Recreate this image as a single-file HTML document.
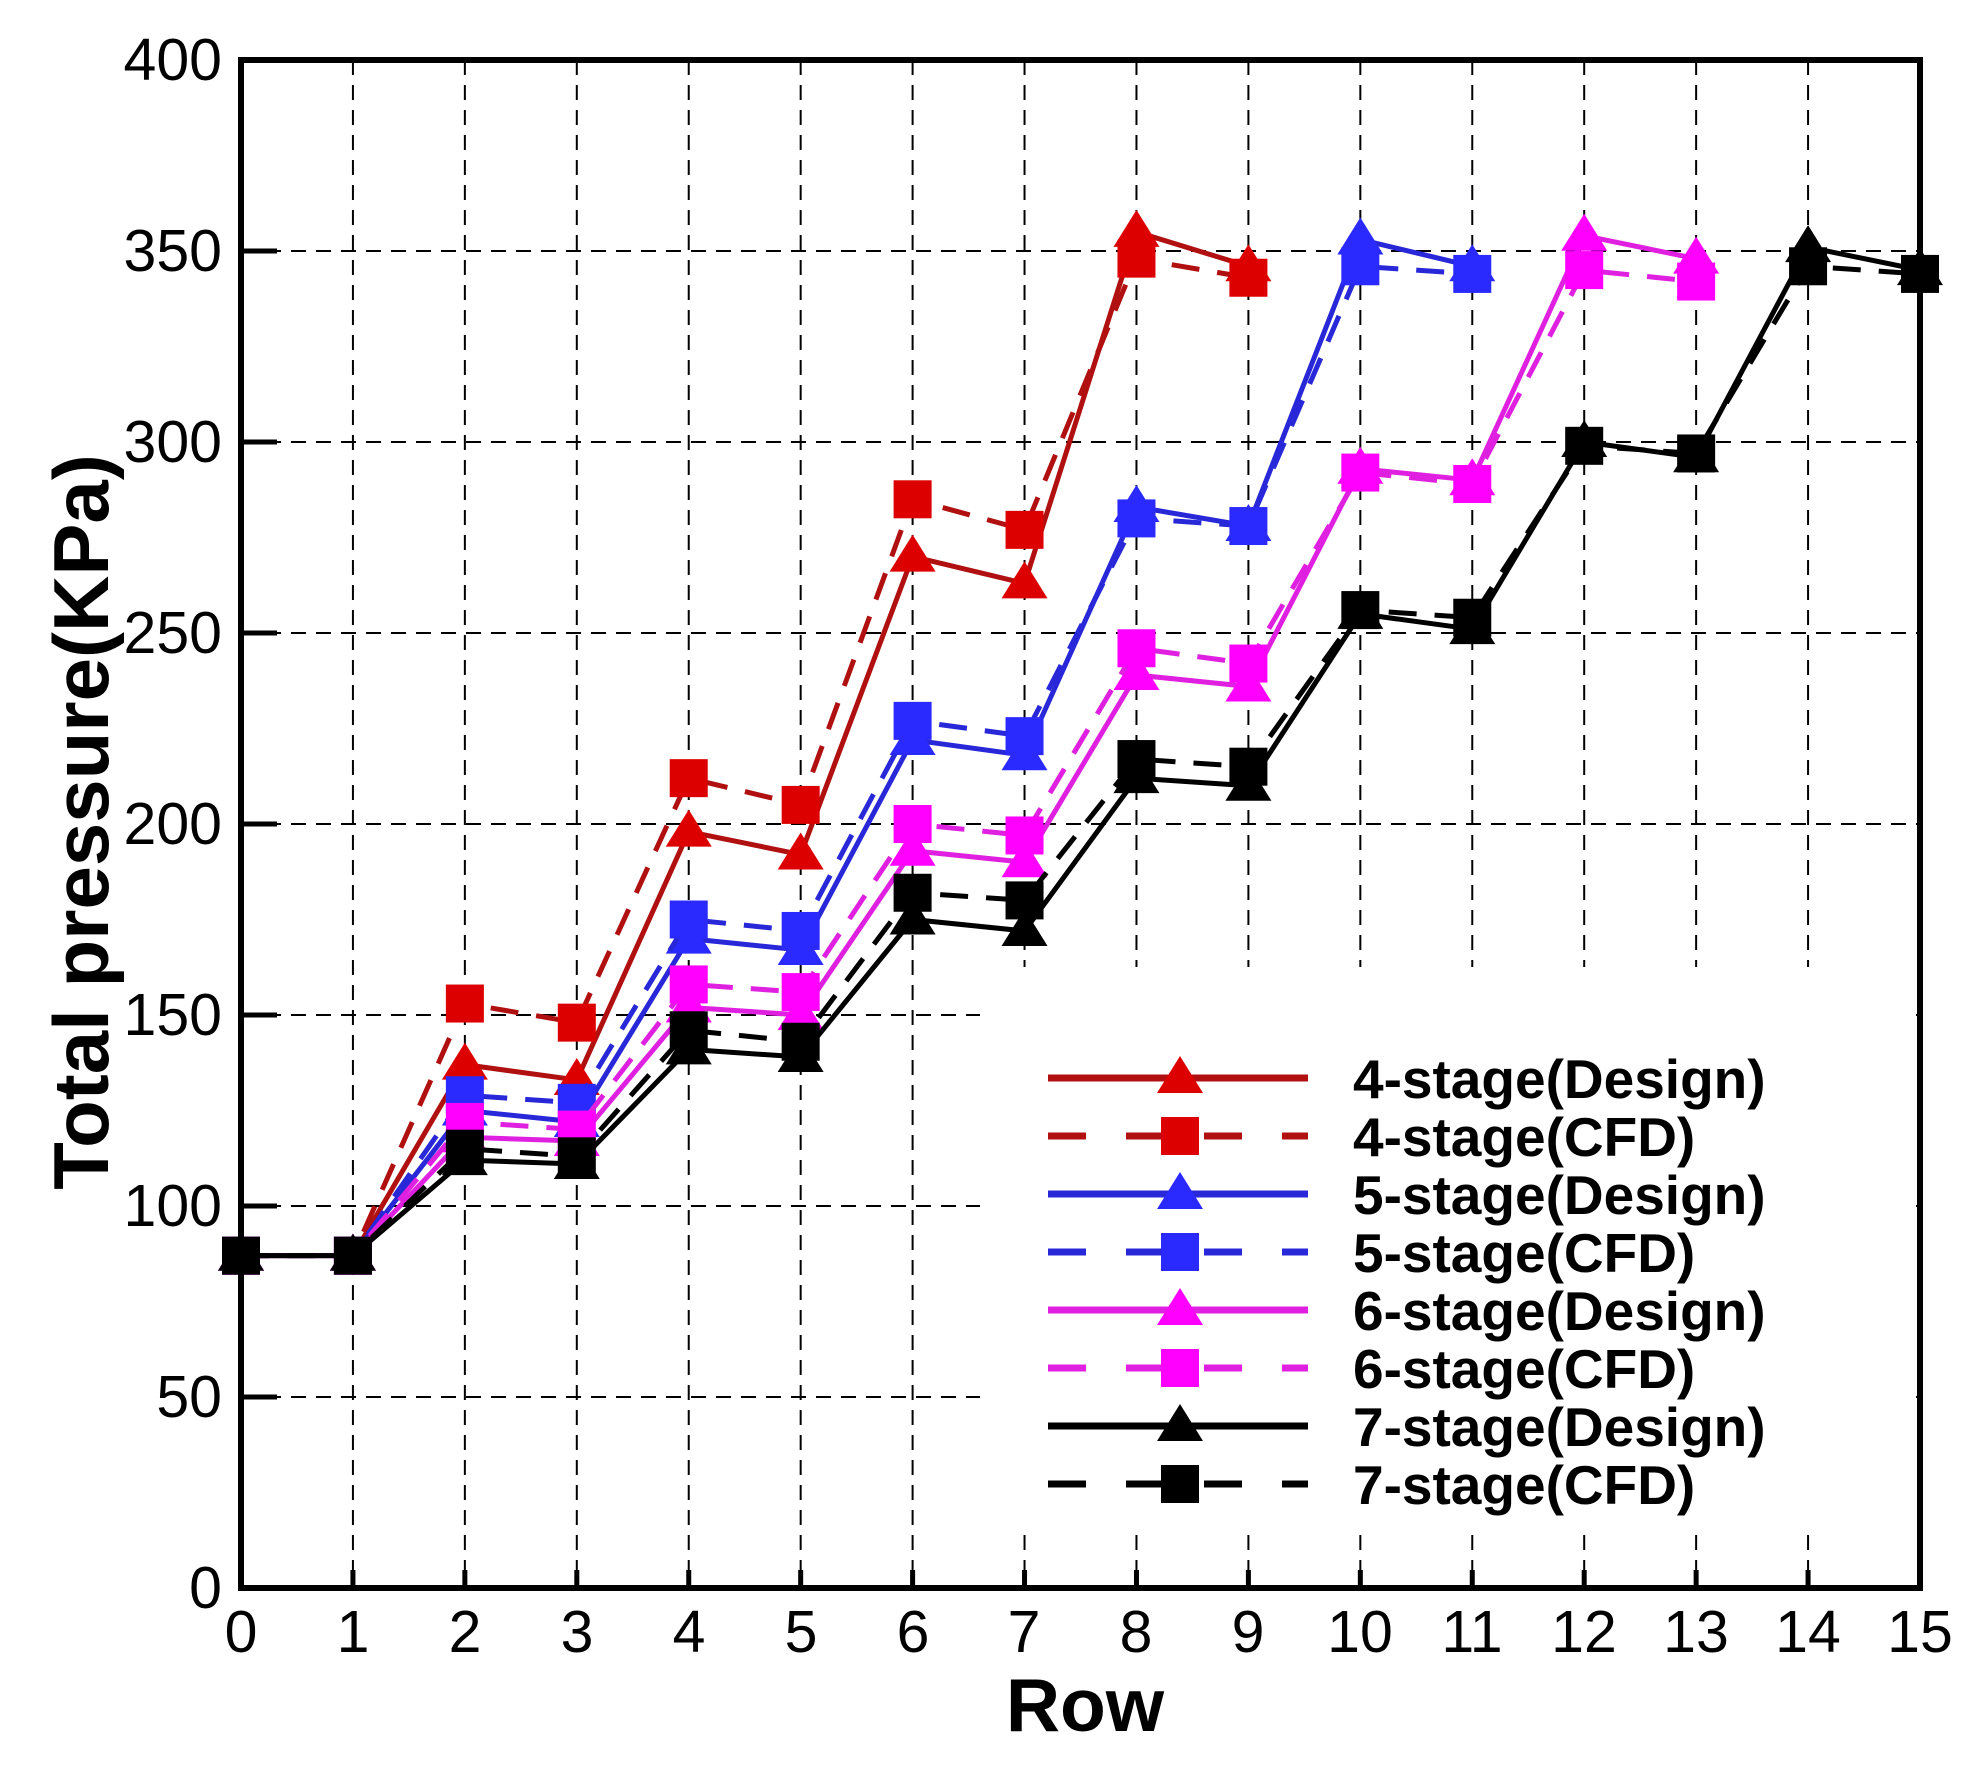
<!DOCTYPE html>
<html><head><meta charset="utf-8"><style>
html,body{margin:0;padding:0;background:#fff}
svg{display:block}
text{font-family:"Liberation Sans",Arial,sans-serif}
</style></head><body>
<svg id="s" width="1986" height="1771" viewBox="0 0 1986 1771" xmlns="http://www.w3.org/2000/svg">
<rect width="1986" height="1771" fill="#fff"/>
<g id="grid" stroke="#000" stroke-width="2" stroke-dasharray="15,10" fill="none"></g>
<rect x="980" y="967" width="935" height="560" fill="#fff"/>
<g id="ticks" stroke="#000" stroke-width="5"></g>
<g id="series"></g>
<rect x="241" y="60" width="1679" height="1528" fill="none" stroke="#000" stroke-width="6"/>
<g font-size="59" text-anchor="end" fill="#000">
<text x="222" y="80">400</text><text x="222" y="271">350</text><text x="222" y="462">300</text><text x="222" y="653">250</text>
<text x="222" y="844">200</text><text x="222" y="1035">150</text><text x="222" y="1226">100</text><text x="222" y="1417">50</text><text x="222" y="1608">0</text>
</g>
<g font-size="59" text-anchor="middle" fill="#000">
<text x="241" y="1652">0</text><text x="353" y="1652">1</text><text x="465" y="1652">2</text><text x="577" y="1652">3</text>
<text x="689" y="1652">4</text><text x="801" y="1652">5</text><text x="913" y="1652">6</text><text x="1024" y="1652">7</text>
<text x="1136" y="1652">8</text><text x="1248" y="1652">9</text><text x="1360" y="1652">10</text><text x="1472" y="1652">11</text>
<text x="1584" y="1652">12</text><text x="1696" y="1652">13</text><text x="1808" y="1652">14</text><text x="1920" y="1652">15</text>
</g>
<text x="1085" y="1731" font-size="75" font-weight="bold" text-anchor="middle">Row</text>
<text transform="translate(108,822) rotate(-90)" font-size="78" font-weight="bold" text-anchor="middle">Total pressure(KPa)</text>
<g id="legend"></g>
<g font-size="55" font-weight="bold" fill="#000">
<text x="1353" y="1098">4-stage(Design)</text>
<text x="1353" y="1156">4-stage(CFD)</text>
<text x="1353" y="1214">5-stage(Design)</text>
<text x="1353" y="1272">5-stage(CFD)</text>
<text x="1353" y="1330">6-stage(Design)</text>
<text x="1353" y="1388">6-stage(CFD)</text>
<text x="1353" y="1446">7-stage(Design)</text>
<text x="1353" y="1504">7-stage(CFD)</text>
</g>
</svg>
<script>
var NS="http://www.w3.org/2000/svg";
function el(p,t,a){var e=document.createElementNS(NS,t);for(var k in a)e.setAttribute(k,a[k]);p.appendChild(e);return e;}
function X(i){return 241+i*1679/15;}
function Y(v){return 1588-v*1528/400;}
var g=document.getElementById('grid'),tk=document.getElementById('ticks');
for(var i=1;i<15;i++){el(g,'line',{x1:X(i),y1:60,x2:X(i),y2:1588});}
for(var v=50;v<400;v+=50){el(g,'line',{x1:241,y1:Y(v),x2:1920,y2:Y(v)});}
for(var i=1;i<15;i++){el(tk,'line',{x1:X(i),y1:1588,x2:X(i),y2:1570});}
for(var v=50;v<400;v+=50){el(tk,'line',{x1:241,y1:Y(v),x2:277,y2:Y(v)});}
var S=[
["#b01010","#dd0000",0,[87,87,137,133,198,192,270,263,355,346]],
["#b01010","#dd0000",1,[87,87,153,148,212,205,285,277,348,343]],
["#2828d8","#2a2aff",0,[87,87,125,122,170,167,222,218,283,278,353,346]],
["#2828d8","#2a2aff",1,[87,87,129,127,175,172,227,223,280,278,346,344]],
["#e020e0","#ff00ff",0,[87,87,118,117,152,150,193,190,239,236,293,290,354,348]],
["#e020e0","#ff00ff",1,[87,87,122,120,158,156,200,197,246,242,292,289,345,342]],
["#000","#000",0,[87,87,112,111,141,139,175,172,212,210,255,251,300,296,351,345]],
["#000","#000",1,[87,87,115,113,146,143,182,180,217,215,256,254,299,297,346,344]]];
var sg=document.getElementById('series'),lg=document.getElementById('legend');
function marker(p,x,y,sq,c){
 if(sq) el(p,'rect',{x:x-19,y:y-19,width:38,height:38,fill:c});
 else el(p,'polygon',{points:(x)+','+(y-22)+' '+(x-23)+','+(y+15)+' '+(x+23)+','+(y+15),fill:c});
}
S.forEach(function(s,k){
 var pts=s[3].map(function(v,i){return X(i)+','+Y(v);}).join(' ');
 var a={points:pts,fill:'none',stroke:s[0],'stroke-width':5,'stroke-linejoin':'round'};
 if(s[2])a['stroke-dasharray']='28,18';
 el(sg,'polyline',a);
 s[3].forEach(function(v,i){marker(sg,X(i),Y(v),s[2],s[1]);});
 var ly=1078+k*58;
 var b={x1:1048,y1:ly,x2:1308,y2:ly,stroke:s[0],'stroke-width':7};
 if(s[2])b['stroke-dasharray']='38,40';
 el(lg,'line',b);
 marker(lg,1180,ly,s[2],s[1]);
});
</script>
</body></html>
